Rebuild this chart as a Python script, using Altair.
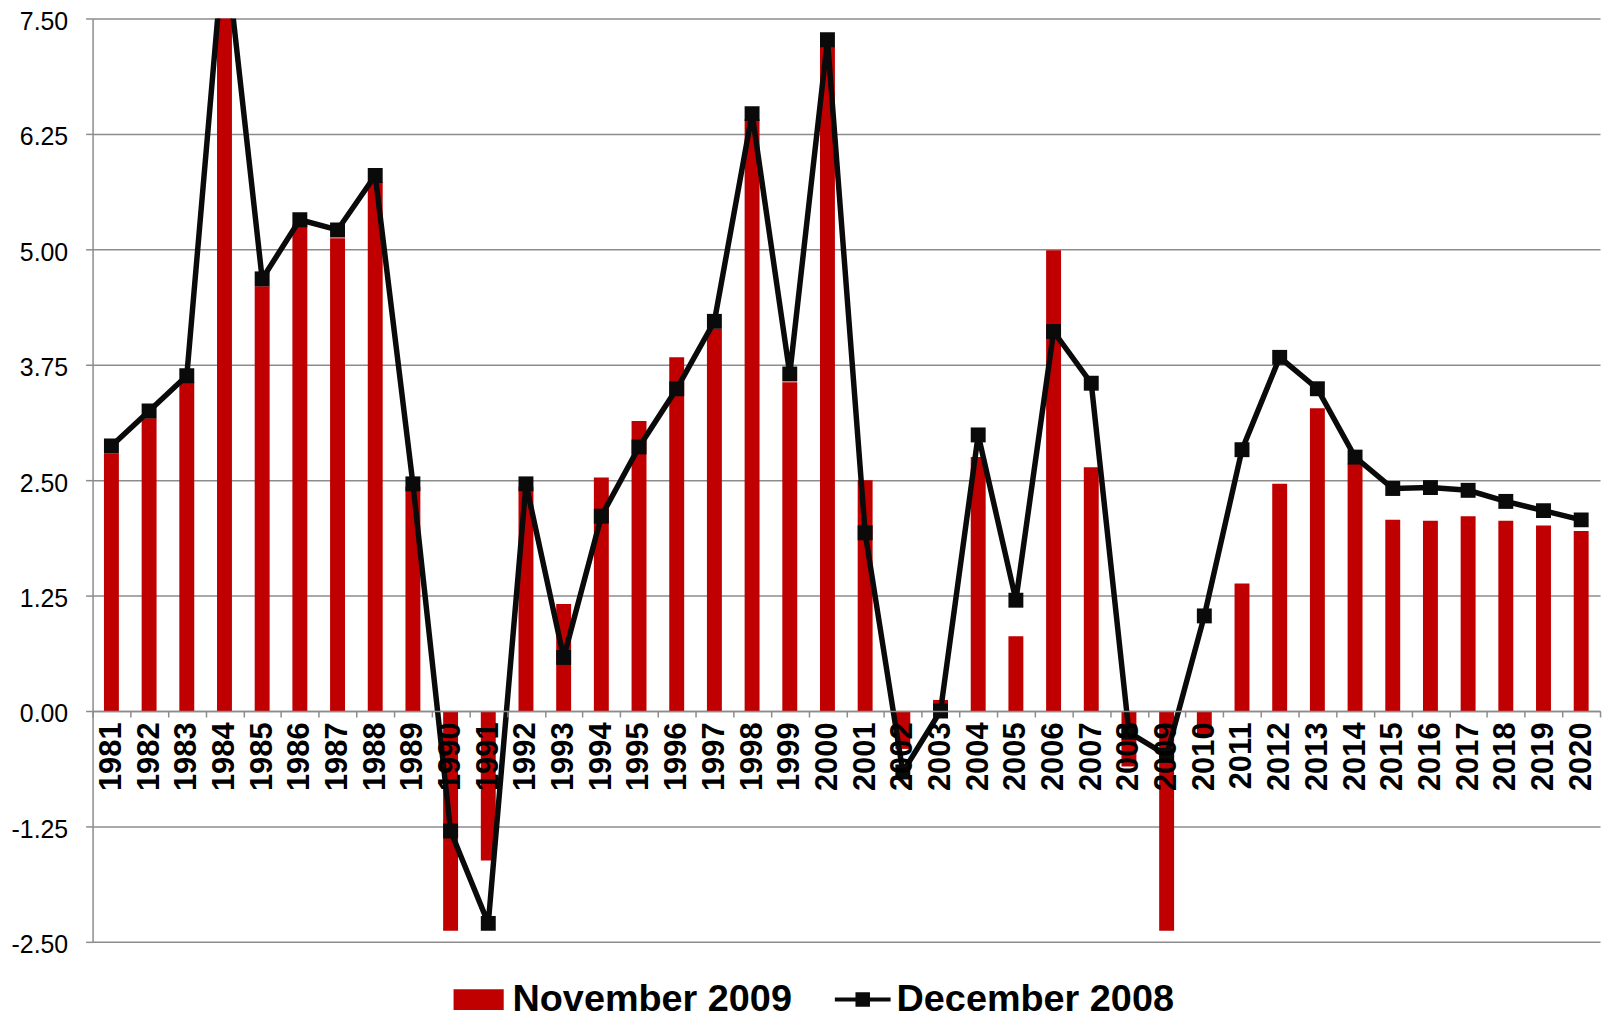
import altair as alt
import pandas as pd

years = [str(y) for y in range(1981, 2021)]

nov2009 = [2.79, 3.17, 3.56, 8.2, 4.60, 5.27, 5.12, 5.73, 2.43, -2.38,
           -1.62, 2.43, 1.16, 2.53, 3.14, 3.83, 4.14, 6.41, 3.56, 7.20,
           2.50, -0.41, 0.12, 2.75, 0.81, 4.99, 2.64, -0.60, -2.38, -0.28,
           1.38, 2.46, 3.28, 2.68, 2.07, 2.06, 2.11, 2.06, 2.01, 1.95]

dec2008 = [2.87, 3.25, 3.63, 8.36, 4.68, 5.32, 5.21, 5.80, 2.46, -1.30,
           -2.30, 2.46, 0.58, 2.11, 2.86, 3.49, 4.22, 6.47, 3.65, 7.27,
           1.93, -0.66, 0.00, 2.99, 1.20, 4.11, 3.55, -0.23, -0.48, 1.03,
           2.83, 3.83, 3.49, 2.75, 2.41, 2.42, 2.39, 2.27, 2.17, 2.07]

series_names = ["November 2009", "December 2008"]
y_ticks = [-2.5, -1.25, 0, 1.25, 2.5, 3.75, 5, 6.25, 7.5]

df = pd.DataFrame({
    "year": years,
    "nov": nov2009,
    "dec": dec2008,
    "s1": series_names[0],
    "s2": series_names[1],
})

FONT = "Liberation Sans"
GRID = "#8c8c8c"

x_enc = alt.X(
    "year:N", sort=years, title=None,
    scale=alt.Scale(paddingInner=0, paddingOuter=0),
    axis=alt.Axis(
        offset=-232, labelAngle=-90, labelFont=FONT, labelFontSize=31,
        labelFontWeight="bold", labelColor="black", labelPadding=5,
        tickBand="extent", tickSize=6, tickColor=GRID, tickWidth=1.5,
        domainColor=GRID, domainWidth=1.5, grid=False, zindex=1,
    ),
)

y_axis = alt.Axis(
    values=y_ticks, format=".2f", title=None, labelFont=FONT, labelFontSize=25,
    labelExpr="replace(datum.label, '\u2212', '-')",
    labelColor="black", labelPadding=18, labelOffset=3, tickSize=7,
    tickColor=GRID, tickWidth=1.5,
    domainColor=GRID, domainWidth=1.5, gridColor=GRID, gridWidth=1.5,
)
y_scale = alt.Scale(domain=[-2.5, 7.5], nice=False, zero=False)

legend_common = dict(
    orient="none", title=None, labelFont=FONT, labelFontSize=38,
    labelFontWeight="bold", labelColor="black", labelLimit=600,
    padding=0, labelOffset=6, symbolStrokeWidth=0, symbolOpacity=1,
    symbolSize=3136, legendY=958,
)

bars = alt.Chart(df).mark_bar(size=15, clip=True).encode(
    x=x_enc,
    y=alt.Y("nov:Q", scale=y_scale, axis=y_axis),
    color=alt.Color(
        "s1:N",
        scale=alt.Scale(domain=[series_names[0]], range=["#C00000"]),
        legend=alt.Legend(
            legendX=360,
            symbolType="M-0.9,-0.37H0.9V0.37H-0.9Z",
            **legend_common,
        ),
    ),
)

line = alt.Chart(df).mark_line(
    strokeWidth=5.5, clip=True,
    point=alt.OverlayMarkDef(shape="square", size=225, filled=True, opacity=1),
).encode(
    x=x_enc,
    y=alt.Y("dec:Q", scale=y_scale, axis=y_axis),
    color=alt.Color(
        "s2:N",
        scale=alt.Scale(domain=[series_names[1]], range=["#0a0a0a"]),
        legend=alt.Legend(
            legendX=746,
            symbolType="M-1,-0.07H1V0.07H-1Z M-0.26,-0.26H0.26V0.26H-0.26Z",
            symbolFillColor="#0a0a0a",
            **legend_common,
        ),
    ),
)

chart = alt.layer(bars, line).resolve_scale(color="independent").properties(
    width=1515, height=928,
    autosize=alt.AutoSizeParams(type="none"),
    padding={"left": 85, "top": 8, "right": 5, "bottom": 76},
).configure_view(stroke=None)

chart.save("out.html", embed_options={"renderer": "svg", "actions": False})
